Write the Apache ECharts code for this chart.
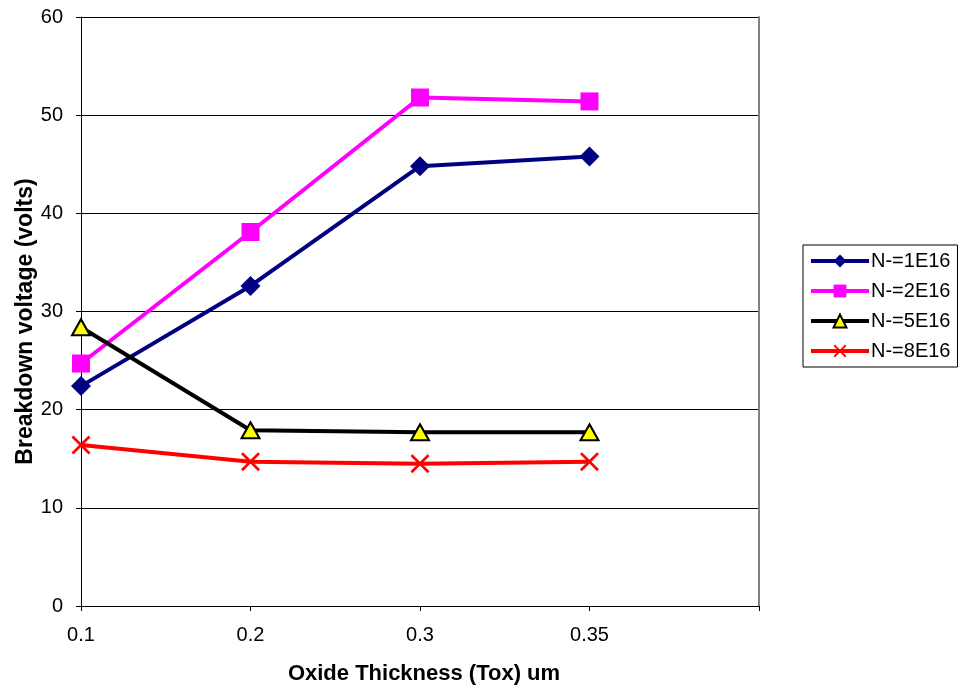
<!DOCTYPE html>
<html><head><meta charset="utf-8">
<script src="https://cdn.jsdelivr.net/npm/echarts@6/dist/echarts.min.js"></script>
<style>html,body{margin:0;padding:0;background:#fff}#c{width:961px;height:688px}</style>
</head><body><div id="c"></div>
<script>
const categories = ['0.1', '0.2', '0.3', '0.35', ''];
const n1E16 = [22.4, 32.6, 44.8, 45.8];
const n2E16 = [24.7, 38.1, 51.8, 51.4];
const n5E16 = [28.4, 17.9, 17.7, 17.7];
const n8E16 = [16.4, 14.7, 14.5, 14.7];
const yTicks = [0, 10, 20, 30, 40, 50, 60];

const FONT = '"Liberation Sans", Arial, sans-serif';
const crossPath = 'path://M0,1L1,0L5,4L9,0L10,1L6,5L10,9L9,10L5,6L1,10L0,9L4,5Z';

const chart = echarts.init(document.getElementById('c'), null, {renderer: 'canvas'});
chart.setOption({
  animation: false,
  backgroundColor: '#fff',
  textStyle: {fontFamily: FONT},
  grid: {left: 81, top: 17, right: 202, bottom: 82, containLabel: false, outerBoundsMode: 'none'},
  legend: {
    orient: 'vertical',
    left: 803, top: 245,
    itemWidth: 58, itemHeight: 16, itemGap: 10,
    padding: [6, 7, 6, 6],
    borderColor: '#000', borderWidth: 1,
    lineStyle: {width: 4},
    textStyle: {fontFamily: FONT, fontSize: 20, color: '#000', padding: [0, 0, 0, -3]},
    data: ['N-=1E16', 'N-=2E16', 'N-=5E16', 'N-=8E16']
  },
  xAxis: {
    type: 'category',
    data: categories,
    boundaryGap: false,
    name: 'Oxide Thickness (Tox) um',
    nameLocation: 'middle',
    nameGap: 57,
    nameMoveOverlap: false,
    nameTextStyle: {fontFamily: FONT, fontSize: 22, fontWeight: 'bold', color: '#000', padding: [0, 0, 0, 8]},
    axisLine: {lineStyle: {color: '#000', width: 1}},
    axisTick: {show: true, length: 5, inside: false, alignWithLabel: true, lineStyle: {color: '#000'}},
    axisLabel: {fontFamily: FONT, fontSize: 20, color: '#000', margin: 19},
    splitLine: {show: false}
  },
  yAxis: [{
    type: 'value',
    min: yTicks[0], max: yTicks[yTicks.length - 1], interval: 10,
    name: 'Breakdown voltage (volts)',
    nameLocation: 'middle',
    nameGap: 44,
    nameMoveOverlap: false,
    nameTextStyle: {fontFamily: FONT, fontSize: 23, fontWeight: 'bold', color: '#000', padding: [0, 20, 0, 0]},
    axisLine: {show: true, lineStyle: {color: '#000', width: 1}},
    axisTick: {show: true, length: 5, lineStyle: {color: '#000'}},
    axisLabel: {fontFamily: FONT, fontSize: 20, color: '#000', margin: 18},
    splitLine: {show: true, lineStyle: {color: '#000', width: 1}}
  }, {
    type: 'value', position: 'right',
    min: 0, max: 60, interval: 10,
    axisLine: {show: true, lineStyle: {color: '#808080', width: 2}},
    axisTick: {show: false}, axisLabel: {show: false}, splitLine: {show: false}
  }],
  series: [
    {
      name: 'N-=1E16', type: 'line', data: n1E16,
      symbol: 'diamond', symbolSize: 20,
      lineStyle: {color: '#000080', width: 4},
      itemStyle: {color: '#000080'}
    },
    {
      name: 'N-=2E16', type: 'line', data: n2E16,
      symbol: 'rect', symbolSize: 18,
      lineStyle: {color: '#ff00ff', width: 4},
      itemStyle: {color: '#ff00ff'}
    },
    {
      name: 'N-=5E16', type: 'line', data: n5E16,
      symbol: 'triangle', symbolSize: [18, 16],
      lineStyle: {color: '#000000', width: 4},
      itemStyle: {color: '#ffff00', borderColor: '#000', borderWidth: 2}
    },
    {
      name: 'N-=8E16', type: 'line', data: n8E16,
      symbol: crossPath, symbolSize: 19,
      lineStyle: {color: '#ff0000', width: 4},
      itemStyle: {color: '#ff0000'}
    }
  ]
});
</script></body></html>
